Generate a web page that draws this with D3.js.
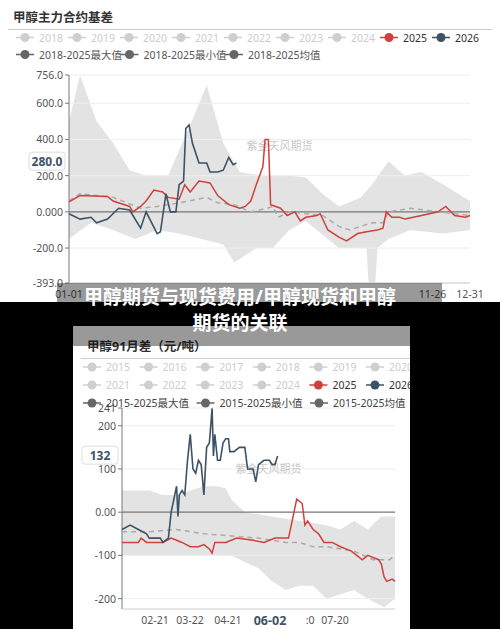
<!DOCTYPE html>
<html><head><meta charset="utf-8">
<script src="https://cdn.jsdelivr.net/npm/d3@7"></script>
<style>body{margin:0;background:#000}text{font-family:"Noto Sans","Noto Sans CJK SC",sans-serif}</style>
</head><body>
<script>
// top chart: basis, x = day of year
var topRed = [[0,55],[10,90],[35,85],[40,60],[55,30],[58,0],[65,30],[70,60],[77,120],[85,110],[90,80],[100,70],[105,150],[110,110],[118,170],[128,160],[135,90],[145,40],[155,20],[160,30],[165,60],[170,150],[176,250],[178,400],[181,400],[183,40],[192,20],[198,-20],[205,0],[210,-50],[215,-30],[225,-20],[228,-10],[235,-100],[245,-140],[252,-160],[262,-120],[270,-110],[280,-100],[285,-90],[288,0],[293,-30],[300,-30],[305,-40],[320,-20],[335,0],[342,30],[350,-20],[360,-30],[364,-20]];
var topDark = [[0,-10],[10,-40],[20,-30],[25,-60],[35,-40],[45,20],[55,10],[65,-90],[70,0],[80,-120],[83,-110],[88,100],[92,0],[97,0],[100,150],[104,170],[106,460],[109,480],[112,380],[118,270],[125,270],[128,220],[135,220],[140,230],[145,300],[149,260],[152,270]];
var topAvg = [[0,60],[10,100],[40,80],[65,20],[80,30],[100,50],[125,80],[135,50],[150,40],[165,0],[180,20],[185,30],[190,-30],[200,0],[230,-20],[245,-80],[255,-100],[275,-60],[285,-60],[290,0],[310,20],[335,0],[364,-20]];
var topMax = [[0,500],[10,756],[25,500],[40,380],[55,230],[70,200],[90,200],[110,480],[125,700],[140,380],[155,220],[175,200],[200,200],[215,190],[230,100],[245,30],[265,80],[275,150],[290,280],[305,200],[320,220],[340,150],[364,60]];
var topMin = [[0,-150],[20,-60],[40,-100],[60,-150],[80,-100],[100,-120],[140,-180],[150,-280],[170,-200],[185,-200],[200,-100],[215,-50],[245,-200],[260,-200],[270,-200],[272,-393],[278,-393],[280,-200],[290,-150],[310,-100],[340,-120],[364,-100]];
var topTicks = [756,600,400,200,0,-200,-393];
var topTickLabels = ["756.0","600.0","400.0","200.0","0.000","-200.0","-393.0"];
var topXLabels = [[0,"01-01"],[330,"11-26"],[364,"12-31"]];
var topLegend1 = ["2018","2019","2020","2021","2022","2023","2024","2025","2026"];
var topLegend2 = ["2018-2025最大值","2018-2025最小值","2018-2025均值"];

// bottom chart: 9-1 spread, x = trading index 0..100
var botRed = [[0,-70],[6,-70],[7,-60],[9,-70],[15,-70],[18,-60],[22,-70],[25,-80],[28,-80],[30,-75],[32,-85],[33,-95],[34,-70],[38,-70],[42,-60],[48,-65],[52,-70],[56,-60],[61,-60],[62,-30],[64,30],[66,20],[67,-30],[68,-20],[70,-40],[72,-50],[74,-70],[77,-70],[80,-80],[82,-85],[84,-90],[86,-100],[88,-110],[90,-100],[94,-110],[95,-120],[96,-150],[97,-160],[99,-155],[100,-160]];
var botDark = [[0,-40],[3,-30],[6,-40],[9,-50],[10,-60],[14,-60],[15,-70],[17,-60],[18,0],[19,30],[20,60],[20.5,-10],[21,40],[22,50],[23,40],[24,120],[25,180],[26,100],[27,90],[28,120],[29,110],[30,40],[31,150],[32,160],[33,240],[33.5,130],[34,180],[35,120],[36,120],[37,160],[38,170],[39,170],[39.5,140],[41,140],[43,150],[45,150],[46,100],[48,100],[49,70],[50,110],[52,120],[54,120],[55,110],[56,110],[57,130]];
var botAvg = [[0,-45],[10,-45],[20,-40],[30,-50],[40,-55],[50,-60],[60,-70],[65,-70],[70,-80],[75,-80],[85,-90],[92,-110],[98,-110],[100,-100]];
var botMax = [[0,50],[10,50],[15,40],[20,40],[25,50],[30,60],[35,60],[38,55],[40,30],[45,0],[55,-10],[65,-20],[75,-30],[80,-40],[85,-20],[90,-40],[95,-10],[100,-10]];
var botMin = [[0,-100],[10,-100],[20,-100],[30,-100],[40,-100],[50,-130],[55,-160],[60,-180],[65,-170],[70,-170],[75,-200],[80,-190],[85,-180],[90,-200],[96,-220],[100,-200]];
var botTicks = [241,200,100,0,-100,-200];
var botTickLabels = ["241","200","100","0.00","-100","-200"];
var botXLabels = [[12.1,"02-21"],[24.9,"03-22"],[38.8,"04-21"],[68.9,":0"],[78,"07-20"]];
var botLegend1 = ["2015","2016","2017","2018","2019","2020"];
var botLegend2 = ["2021","2022","2023","2024","2025","2026"];
var botLegend3 = ["2015-2025最大值","2015-2025最小值","2015-2025均值"];

var RED = "#d0403c", DARK = "#3e5266", LG = "#cfcfcf", MG = "#666";
var svg = d3.select("body").append("svg").attr("width",500).attr("height",629);
svg.append("rect").attr("width",500).attr("height",629).attr("fill","#000");

function legendItem(g, x, y, label, col, tcol) {
  g.append("line").attr("x1",x-9).attr("x2",x+9).attr("y1",y).attr("y2",y).attr("stroke",col).attr("stroke-width",1.5);
  g.append("circle").attr("cx",x).attr("cy",y).attr("r",4.5).attr("fill",col);
  g.append("text").attr("x",x+14).attr("y",y+4).attr("font-size",10.5).attr("fill",tcol).text(label);
}

function drawChart(g, o) {
  var x = d3.scaleLinear().domain(o.xd).range([o.x0,o.x1]);
  var y = d3.scaleLinear().domain(o.yd).range([o.y1,o.y0]);
  var lo = d3.scaleLinear().domain(o.min.map(d=>d[0])).range(o.min.map(d=>d[1]));
  var hi = d3.scaleLinear().domain(o.max.map(d=>d[0])).range(o.max.map(d=>d[1]));
  var xs = Array.from(new Set(o.max.map(d=>d[0]).concat(o.min.map(d=>d[0])))).sort((a,b)=>a-b);
  g.append("path").datum(xs).attr("fill","#e3e3e3")
    .attr("d", d3.area().x(d=>x(d)).y0(d=>y(lo(d))).y1(d=>y(hi(d))));
  o.ticks.forEach(function(t,i){
    g.append("line").attr("x1",o.x0).attr("x2",o.x1).attr("y1",y(t)).attr("y2",y(t))
      .attr("stroke", t===0 ? "#777" : "#eee").attr("stroke-width", t===0?1.2:1);
    g.append("line").attr("x1",o.x0-4).attr("x2",o.x0).attr("y1",y(t)).attr("y2",y(t)).attr("stroke","#777");
    g.append("text").attr("x",o.x0-6).attr("y",y(t)+4).attr("text-anchor","end").attr("font-size",10.5).attr("fill","#555").text(o.tickLabels[i]);
  });
  g.append("line").attr("x1",o.x0).attr("x2",o.x0).attr("y1",o.y0).attr("y2",o.y1).attr("stroke","#777");
  g.append("line").attr("x1",o.x0).attr("x2",o.x1).attr("y1",o.y1).attr("y2",o.y1).attr("stroke","#ccc");
  g.append("text").attr("x",(o.x0+o.x1)/2+10).attr("y",y(o.wmY)).attr("text-anchor","middle").attr("font-size",11).attr("fill","#c8c8c8").text("紫金天风期货");
  var line = d3.line().x(d=>x(d[0])).y(d=>y(d[1]));
  g.append("path").datum(o.avg).attr("d",line).attr("fill","none").attr("stroke","#aaa").attr("stroke-width",1.5).attr("stroke-dasharray","5,4");
  g.append("path").datum(o.red).attr("d",line).attr("fill","none").attr("stroke",RED).attr("stroke-width",1.5);
  g.append("path").datum(o.dark).attr("d",line).attr("fill","none").attr("stroke",DARK).attr("stroke-width",1.6);
  o.xLabels.forEach(function(l){
    g.append("text").attr("x",x(l[0])).attr("y",o.y1+15).attr("text-anchor","middle").attr("font-size",10.5).attr("fill","#555").text(l[1]);
  });
  var py = y(o.pointer);
  g.append("rect").attr("x",o.x0-40).attr("y",py-9).attr("width",36).attr("height",18).attr("rx",3).attr("fill","#fff").attr("stroke","#ddd");
  g.append("text").attr("x",o.x0-22).attr("y",py+5).attr("text-anchor","middle").attr("font-size",12).attr("font-weight","bold").attr("fill",DARK).text(o.pointerLabel);
  return x;
}

// top panel
var topG = svg.append("g");
topG.append("rect").attr("width",500).attr("height",302).attr("fill","#fff");
topG.append("text").attr("x",13).attr("y",22).attr("font-size",12.5).attr("font-weight","bold").attr("fill","#333").text("甲醇主力合约基差");
topG.append("line").attr("x1",8).attr("x2",492).attr("y1",29.5).attr("y2",29.5).attr("stroke","#ccc");
topLegend1.forEach(function(l,i){
  var c = l==="2025" ? RED : l==="2026" ? DARK : LG;
  legendItem(topG, 25+52*i, 37.5, l, c, i<7 ? "#ccc" : "#333");
});
topLegend2.forEach(function(l,i){ legendItem(topG, 25+104.5*i, 54.5, l, MG, "#555"); });
drawChart(topG, {xd:[0,364], x0:69, x1:470, yd:[-393,756], y0:75, y1:283,
  red:topRed, dark:topDark, avg:topAvg, max:topMax, min:topMin,
  ticks:topTicks, tickLabels:topTickLabels, xLabels:topXLabels, wmY:340, pointer:280, pointerLabel:"280.0"});

// bottom panel
svg.append("clipPath").attr("id","cb").append("rect").attr("x",73).attr("y",326).attr("width",337).attr("height",303);
var botG = svg.append("g").attr("clip-path","url(#cb)");
botG.append("rect").attr("x",73).attr("y",326).attr("width",337).attr("height",303).attr("fill","#fff");
botG.append("text").attr("x",87).attr("y",351).attr("font-size",12.5).attr("font-weight","bold").attr("fill","#333").text("甲醇91月差（元/吨）");
botG.append("line").attr("x1",81).attr("x2",410).attr("y1",358.5).attr("y2",358.5).attr("stroke","#ccc");
botLegend1.forEach(function(l,i){ legendItem(botG, 92+56.6*i, 367, l, LG, "#ccc"); });
botLegend2.forEach(function(l,i){
  var c = l==="2025" ? RED : l==="2026" ? DARK : LG;
  legendItem(botG, 92+56.6*i, 385, l, c, i<4 ? "#ccc" : "#333");
});
drawChart(botG, {xd:[0,100], x0:122, x1:395, yd:[-224,241], y0:408, y1:609,
  red:botRed, dark:botDark, avg:botAvg, max:botMax, min:botMin,
  ticks:botTicks, tickLabels:botTickLabels, xLabels:botXLabels, wmY:90, pointer:132, pointerLabel:"132"});
botLegend3.forEach(function(l,i){ legendItem(botG, 92+113.5*i, 403, l, MG, "#444"); });
botG.append("text").attr("x",270).attr("y",625).attr("text-anchor","middle").attr("font-size",12.5).attr("font-weight","bold").attr("fill",DARK).text("06-02");

// caption overlay
svg.append("rect").attr("x",57).attr("y",283).attr("width",385).attr("height",63).attr("fill","rgba(0,0,0,0.4)");
["甲醇期货与现货费用/甲醇现货和甲醇","期货的关联"].forEach(function(t,i){
  svg.append("text").attr("x",240).attr("y",304+i*26).attr("text-anchor","middle").attr("font-size",19).attr("font-weight","bold").attr("fill","#fff").text(t);
});
</script>
</body></html>
